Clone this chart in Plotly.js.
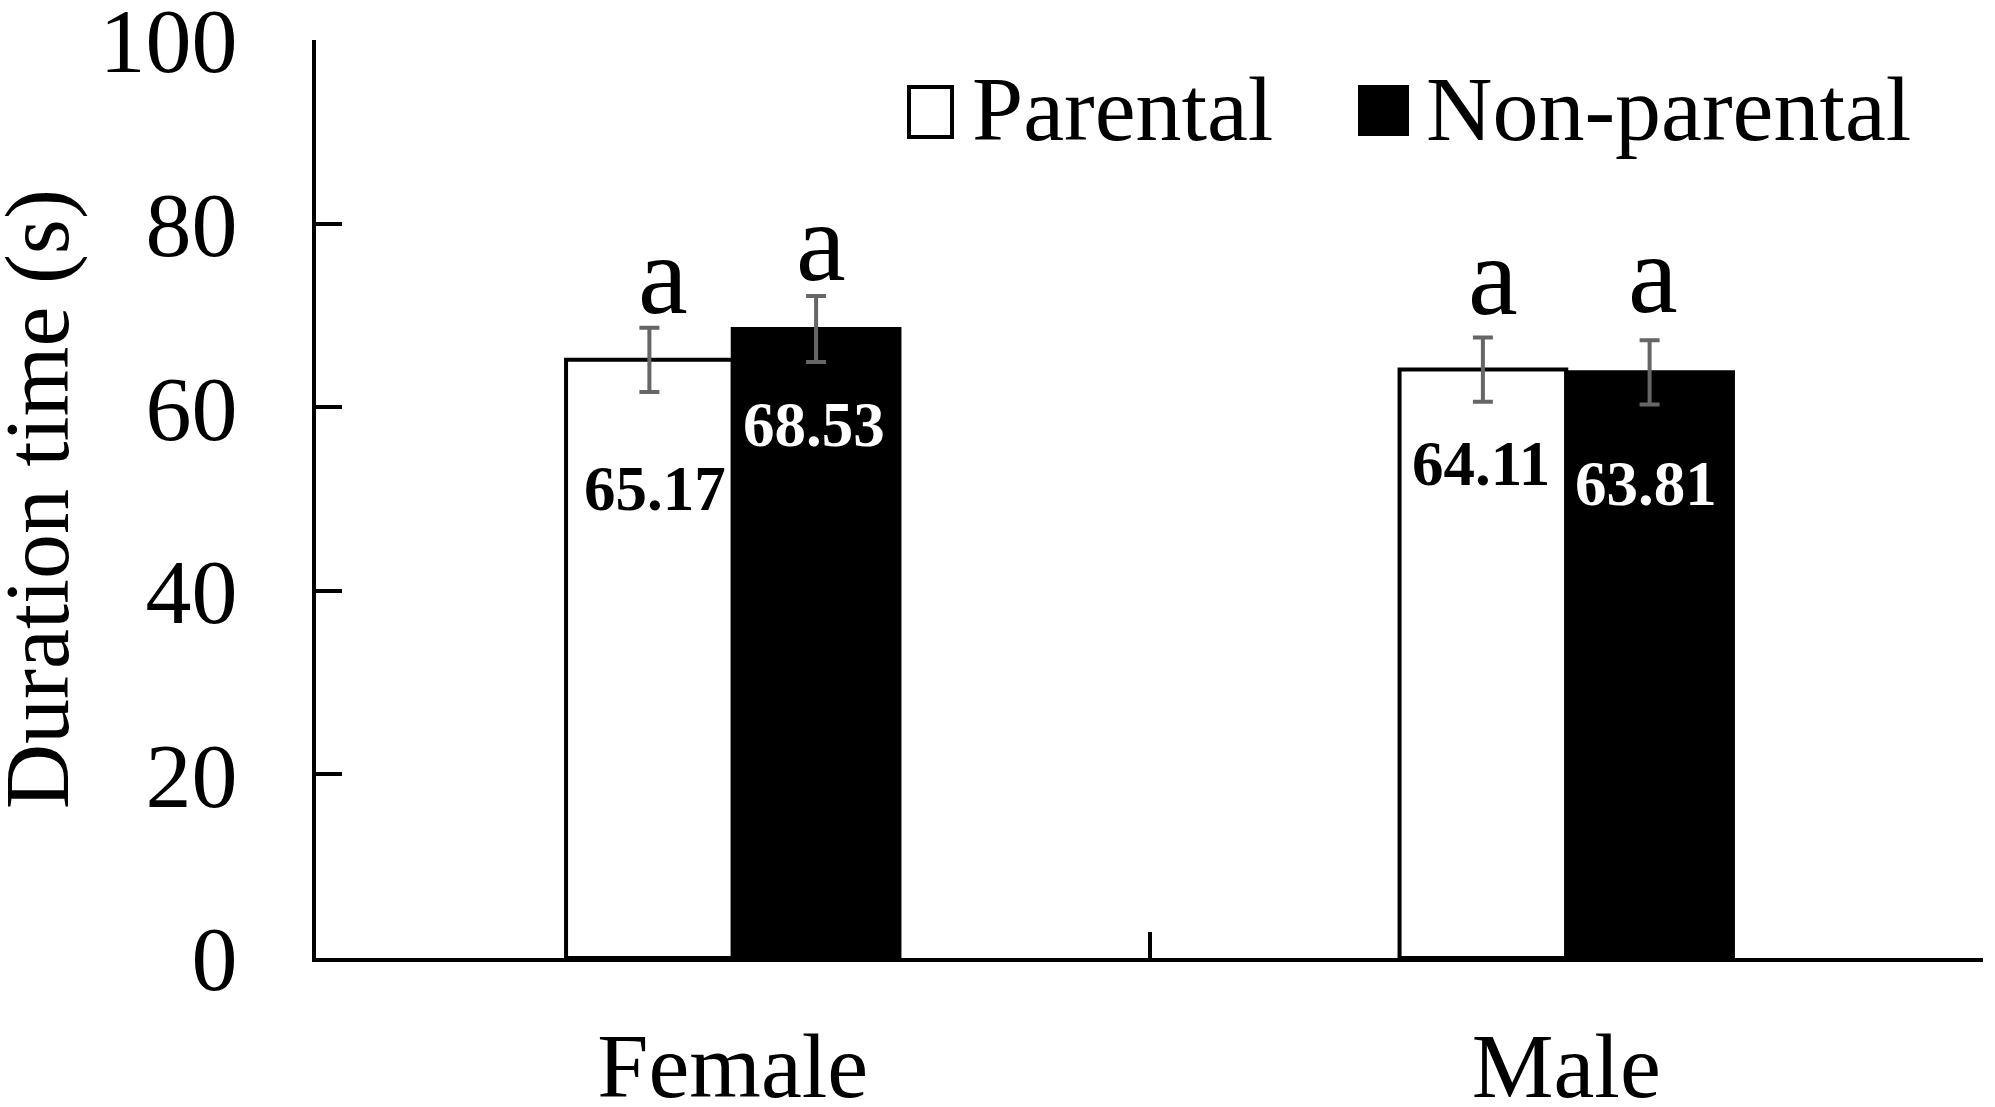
<!DOCTYPE html>
<html>
<head>
<meta charset="utf-8">
<script src="https://cdn.plot.ly/plotly-3.0.1.min.js"></script>
<style>html,body{margin:0;padding:0;background:#fff;}#chart{width:1995px;height:1107px;}</style>
</head>
<body>
<div id="chart"></div>
<script>
// ---- data ----
var categories = ["Female", "Male"];
var seriesNames = ["Parental", "Non-parental"];
var parentalValues = [65.17, 64.11];
var nonParentalValues = [68.53, 63.81];
var parentalErr = [3.5, 3.5];
var nonParentalErr = [3.6, 3.5];
var significance = [["a", "a"], ["a", "a"]]; // [parental, nonparental] per category
var yTitle = "Duration time (s)";
var yTickVals = [0, 20, 40, 60, 80, 100];
var yTickText = ["0", "20", "40", "60", "80", "100"];

// ---- style / layout constants ----
var FONT = "Liberation Serif, Times New Roman, serif";
var W = 1995, H = 1107;
var M = {l: 316, r: 12, t: 40, b: 149};
var barOffset = 0.1; // half of bar width in category units (bargap 0.6)
var valueShift = [[-129, -94], [-96, -112]]; // px, [series][category]
var valueXShift = [[6, -2], [-2, -4]];
var letterShift = [[-11, -3], [-10, 2]];
var letterXShift = [[14, 10], [5, 3]];

function pxX(p){ return (p - M.l) / (W - M.l - M.r); }
function pxY(p){ return (H - M.b - p) / (H - M.t - M.b); }

var traces = [
  {
    type: "bar", name: seriesNames[0], x: categories, y: parentalValues,
    marker: {color: "#ffffff", line: {color: "#000000", width: 4}},
    error_y: {type: "data", array: parentalErr, visible: true, color: "#666666", thickness: 4, width: 10},
    showlegend: false, hoverinfo: "none"
  },
  {
    type: "bar", name: seriesNames[1], x: categories, y: nonParentalValues,
    marker: {color: "#000000", line: {color: "#000000", width: 4}},
    error_y: {type: "data", array: nonParentalErr, visible: true, color: "#666666", thickness: 4, width: 10},
    showlegend: false, hoverinfo: "none"
  }
];

var annotations = [];
var allVals = [parentalValues, nonParentalValues];
var allErr = [parentalErr, nonParentalErr];
for (var s = 0; s < 2; s++) {
  for (var c = 0; c < categories.length; c++) {
    var xc = c + (s === 0 ? -barOffset : barOffset);
    annotations.push({
      xref: "x", yref: "y", x: xc, y: allVals[s][c],
      text: allVals[s][c].toFixed(2), showarrow: false,
      xanchor: "center", yanchor: "middle", yshift: valueShift[s][c], xshift: valueXShift[s][c],
      font: {family: FONT, size: 63, color: s === 0 ? "#000000" : "#ffffff", weight: "bold"}
    });
    annotations.push({
      xref: "x", yref: "y", x: xc, y: allVals[s][c] + allErr[s][c],
      text: significance[c][s], showarrow: false,
      xanchor: "center", yanchor: "bottom", yshift: letterShift[s][c], xshift: letterXShift[s][c],
      font: {family: FONT, size: 112, color: "#000000"}
    });
  }
}
// y-axis title
annotations.push({xref: "paper", yref: "paper", x: pxX(38), y: 0.5, xanchor: "center", yanchor: "middle",
  textangle: -90, text: yTitle, showarrow: false, font: {family: FONT, size: 90, color: "#000"}});
// legend texts
annotations.push({xref: "paper", yref: "paper", x: pxX(970), y: pxY(109), xanchor: "left", yanchor: "middle",
  text: seriesNames[0], showarrow: false, font: {family: FONT, size: 92, color: "#000"}});
annotations.push({xref: "paper", yref: "paper", x: pxX(1424), y: pxY(109), xanchor: "left", yanchor: "middle",
  text: seriesNames[1], showarrow: false, font: {family: FONT, size: 92, color: "#000"}});

var shapes = [
  {type: "rect", xref: "paper", yref: "paper", x0: pxX(909), x1: pxX(952), y0: pxY(137), y1: pxY(87),
   line: {color: "#000", width: 4}, fillcolor: "#fff"},
  {type: "rect", xref: "paper", yref: "paper", x0: pxX(1358), x1: pxX(1409), y0: pxY(136), y1: pxY(85),
   line: {color: "#000", width: 0}, fillcolor: "#000"}
];

var layout = {
  width: W, height: H,
  margin: M,
  paper_bgcolor: "#fff", plot_bgcolor: "#fff",
  barmode: "group", bargap: 0.6, bargroupgap: 0,
  showlegend: false,
  font: {family: FONT, color: "#000"},
  xaxis: {
    type: "category", range: [-0.5, 1.5], tickson: "boundaries",
    ticks: "inside", ticklen: 26, tickwidth: 4, tickcolor: "#000",
    showline: true, linewidth: 4, linecolor: "#000", showgrid: false, zeroline: false,
    tickfont: {family: FONT, size: 92, color: "#000"}, ticklabelstandoff: 25,
    fixedrange: true
  },
  yaxis: {
    range: [0, 100.02], tickvals: yTickVals, ticktext: yTickText,
    ticks: "inside", ticklen: 26, tickwidth: 4, tickcolor: "#000",
    showline: true, linewidth: 4, linecolor: "#000", showgrid: false, zeroline: false,
    tickfont: {family: FONT, size: 92, color: "#000"}, ticklabelstandoff: 56,
    ticklabeloverflow: "allow",
    automargin: false, fixedrange: true
  },
  annotations: annotations,
  shapes: shapes
};

Plotly.newPlot("chart", traces, layout, {displayModeBar: false, staticPlot: true});
</script>
</body>
</html>
